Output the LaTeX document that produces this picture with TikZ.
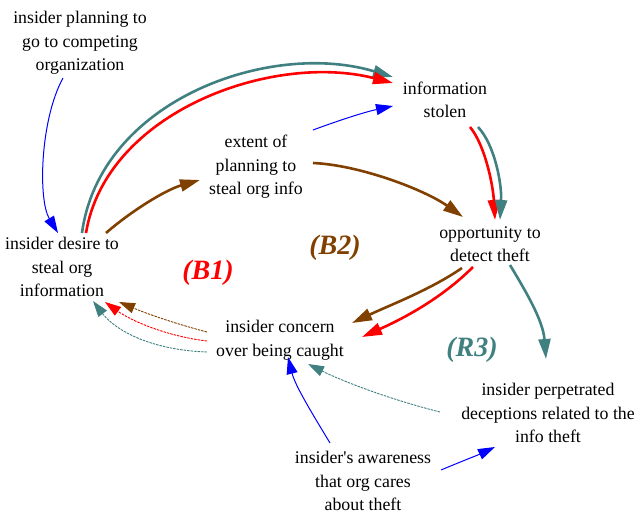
\documentclass[tikz,border=0pt]{standalone}
\usepackage{fontspec}
\setmainfont{Liberation Serif}
\usetikzlibrary{arrows.meta}
\definecolor{cteal}{RGB}{64,128,128}
\definecolor{cbrown}{RGB}{128,64,0}
\definecolor{cred}{RGB}{255,0,0}
\definecolor{cblue}{RGB}{0,0,255}
\tikzset{
  lbl/.style={align=center,font=\fontsize{17.8}{23.5}\selectfont,inner sep=0pt},
  loop/.style={font=\fontsize{28}{30}\selectfont\bfseries\itshape,inner sep=0pt},
  thk/.style={line width=2.6pt,-{Triangle[length=20pt,width=12pt]}},
  thn/.style={line width=1pt,-{Triangle[length=17pt,width=11pt]}},
  dsh/.style={line width=0.9pt,dash pattern=on 2.5pt off 1pt,-{Triangle[length=16pt,width=10.5pt]}},
}
\begin{document}
\begin{tikzpicture}[x=1pt,y=-1pt]
\useasboundingbox (0,0) rectangle (641,514);
\node[lbl] (plan) at (80,43) {insider planning to\\go to competing\\organization};
\node[lbl] (stolen) at (445,100) {information\\stolen};
\node[lbl] (extent) at (256,167) {extent of\\planning to\\steal org info};
\node[lbl] (desire) at (62,267) {insider desire to\\steal org\\information};
\node[lbl] (opp) at (490,244) {opportunity to\\detect theft};
\node[lbl] (concern) at (280,340) {insider concern\\over being caught};
\node[lbl] (decep) at (548,413) {insider perpetrated\\deceptions related to the\\info theft};
\node[lbl] (aware) at (363,481) {insider\textquotesingle s awareness\\that org cares\\about theft};
\node[loop,text=cred] (b1) at (208,273) {(B1)};
\node[loop,text=cbrown] (b2) at (335,248) {(B2)};
\node[loop,text=cteal] (r3) at (472,350) {(R3)};

% plan -> desire
\draw[thn,cblue] ([shift={(-17,35)}]plan.center) .. controls (40,120) and (38,200) .. ([shift={(-4,-34)}]desire.center);
% desire -> stolen
\draw[thk,cteal] ([shift={(20,-34)}]desire.center) .. controls (100,100) and (270,40) .. ([shift={(-52,-23)}]stolen.center);
\draw[thk,cred] ([shift={(24,-34)}]desire.center) .. controls (106,112) and (272,52) .. ([shift={(-52,-17)}]stolen.center);
% desire -> extent
\draw[thk,cbrown] ([shift={(44,-34)}]desire.center) .. controls (130,212) and (165,190) .. ([shift={(-56,13)}]extent.center);
% extent -> stolen
\draw[thn,cblue] ([shift={(57,-37)}]extent.center) .. controls (340,120) and (365,112) .. ([shift={(-52,6)}]stolen.center);
% extent -> opp
\draw[thk,cbrown] ([shift={(57,-4)}]extent.center) .. controls (360,165) and (425,190) .. ([shift={(-27,-27)}]opp.center);
% stolen -> opp
\draw[thk,cred] ([shift={(25,27)}]stolen.center) .. controls (485,145) and (493,185) .. ([shift={(5,-24)}]opp.center);
\draw[thk,cteal] ([shift={(33,27)}]stolen.center) .. controls (495,145) and (502,185) .. ([shift={(10,-24)}]opp.center);
% opp -> decep
\draw[thk,cteal] ([shift={(20,21)}]opp.center) .. controls (525,290) and (543,320) .. ([shift={(-2,-54)}]decep.center);
% opp -> concern
\draw[thk,cbrown] ([shift={(-28,24)}]opp.center) .. controls (430,290) and (390,305) .. ([shift={(72,-17)}]concern.center);
\draw[thk,cred] ([shift={(-17,23)}]opp.center) .. controls (440,300) and (400,320) .. ([shift={(82,-3)}]concern.center);
% concern -> desire (dashed)
\draw[dsh,cbrown] ([shift={(-73,-8)}]concern.center) .. controls (180,325) and (150,315) .. ([shift={(57,35)}]desire.center);
\draw[dsh,cred] ([shift={(-73,1)}]concern.center) .. controls (165,336) and (130,320) .. ([shift={(43,35)}]desire.center);
\draw[dsh,cteal] ([shift={(-73,12)}]concern.center) .. controls (150,350) and (115,330) .. ([shift={(31,34)}]desire.center);
% decep -> concern
\draw[dsh,cteal] ([shift={(-108,-1)}]decep.center) .. controls (385,398) and (340,380) .. ([shift={(28,24)}]concern.center);
% aware -> concern
\draw[thn,cblue] ([shift={(-33,-38)}]aware.center) .. controls (310,410) and (295,385) .. ([shift={(8,17)}]concern.center);
% aware -> decep
\draw[thn,cblue] ([shift={(78,-11)}]aware.center) .. controls (460,462) and (478,455) .. ([shift={(-53,34)}]decep.center);
\end{tikzpicture}
\end{document}
